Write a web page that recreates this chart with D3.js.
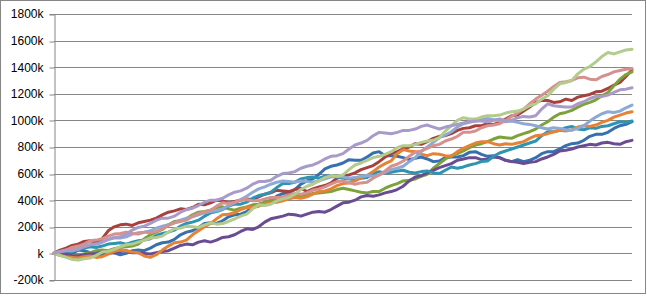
<!DOCTYPE html>
<html>
<head>
<meta charset="utf-8">
<script src="https://cdn.jsdelivr.net/npm/d3@7"></script>
<style>
  body { margin: 0; background: #fff; }
  svg { display: block; }
  .tick text { font-family: "Liberation Sans", Arial, sans-serif; font-size: 12px; fill: #000; }
</style>
</head>
<body>
<div id="chart"></div>
<script>
// chart values in thousands, one point every ~6px across the plot
const yTicks = [-200, 0, 200, 400, 600, 800, 1000, 1200, 1400, 1600, 1800];

const blue = [0, 15, 10, -5, 25, 20, 5, -5, -10, 10, 5, -10, 0, 20, 25, 20, 40, 65, 80, 85, 105, 140, 160, 170, 195, 225, 230, 225, 245, 275, 290, 295, 315, 345, 365, 365, 390, 430, 450, 455, 480, 520, 545, 560, 595, 635, 655, 665, 680, 705, 700, 700, 725, 755, 765, 735, 735, 730, 720, 705, 715, 725, 710, 690, 695, 720, 725, 725, 735, 760, 765, 745, 730, 735, 720, 700, 690, 705, 690, 700, 720, 750, 765, 765, 785, 810, 825, 830, 850, 880, 895, 895, 910, 940, 960, 970, 990];
const red = [0, 25, 40, 60, 70, 90, 95, 85, 110, 170, 200, 215, 220, 210, 230, 240, 250, 265, 290, 310, 320, 335, 330, 345, 370, 365, 380, 400, 395, 380, 390, 400, 410, 405, 425, 445, 455, 475, 470, 465, 480, 490, 465, 485, 500, 510, 530, 565, 585, 590, 605, 630, 645, 660, 690, 725, 750, 765, 785, 800, 825, 820, 840, 865, 880, 885, 900, 925, 940, 945, 960, 960, 975, 970, 985, 1010, 1035, 1040, 1070, 1100, 1135, 1150, 1150, 1135, 1140, 1160, 1150, 1175, 1185, 1195, 1215, 1220, 1240, 1265, 1285, 1330, 1380];
const green = [0, -15, -25, -20, -10, -5, 5, 20, 25, 20, 35, 45, 50, 55, 70, 110, 140, 160, 180, 215, 240, 245, 260, 290, 310, 315, 325, 345, 350, 335, 325, 340, 350, 365, 370, 385, 400, 400, 410, 425, 435, 430, 440, 450, 455, 460, 465, 480, 490, 480, 470, 460, 455, 465, 465, 490, 510, 525, 545, 550, 560, 580, 595, 640, 675, 710, 735, 750, 770, 795, 815, 825, 840, 860, 875, 870, 865, 885, 900, 915, 935, 965, 990, 1025, 1050, 1060, 1075, 1100, 1120, 1135, 1155, 1185, 1210, 1260, 1310, 1345, 1365];
const purple = [0, -5, -10, -20, -20, -10, -5, 0, 10, 0, 5, 15, 20, 5, 5, 0, -5, 5, 15, 20, 40, 60, 70, 65, 85, 95, 85, 100, 120, 125, 140, 165, 185, 180, 200, 235, 260, 270, 280, 295, 290, 280, 295, 310, 315, 310, 330, 355, 380, 385, 400, 425, 435, 430, 440, 455, 465, 480, 505, 545, 575, 585, 605, 625, 645, 660, 675, 700, 710, 720, 720, 705, 710, 725, 720, 700, 690, 685, 675, 685, 690, 710, 725, 745, 770, 775, 785, 800, 810, 820, 815, 830, 835, 825, 820, 840, 850];
const teal = [0, 15, 20, 15, 25, 40, 50, 45, 55, 70, 75, 80, 70, 85, 95, 100, 110, 135, 150, 160, 175, 205, 225, 235, 250, 280, 305, 315, 330, 355, 370, 370, 385, 415, 435, 445, 460, 495, 525, 525, 535, 560, 570, 575, 565, 580, 585, 575, 565, 560, 555, 565, 570, 600, 615, 605, 610, 620, 625, 610, 605, 615, 620, 605, 600, 625, 650, 640, 650, 665, 675, 690, 695, 730, 755, 770, 785, 800, 815, 830, 845, 885, 915, 915, 925, 945, 955, 935, 930, 945, 940, 955, 960, 975, 990, 985, 995];
const orange = [0, -15, -25, -30, -35, -25, -20, -30, -25, -5, 15, 25, 20, 10, 5, -20, -30, -10, 25, 55, 80, 85, 100, 140, 170, 200, 225, 260, 290, 295, 305, 330, 345, 345, 355, 370, 380, 385, 395, 410, 420, 415, 425, 445, 465, 470, 485, 510, 525, 530, 545, 570, 585, 615, 650, 675, 695, 750, 780, 770, 765, 745, 735, 750, 745, 735, 730, 765, 790, 810, 830, 840, 840, 825, 815, 825, 820, 830, 840, 865, 885, 890, 900, 915, 925, 920, 930, 950, 960, 955, 965, 985, 1000, 1025, 1040, 1055, 1065];
const lightBlue = [0, 15, 25, 30, 40, 55, 65, 70, 85, 105, 115, 115, 125, 145, 155, 160, 170, 190, 205, 215, 230, 250, 265, 275, 290, 305, 315, 320, 335, 360, 380, 405, 430, 460, 485, 500, 520, 535, 545, 540, 535, 545, 540, 535, 545, 560, 575, 580, 575, 565, 570, 580, 585, 580, 590, 610, 630, 640, 655, 690, 720, 765, 800, 835, 870, 890, 915, 950, 975, 985, 995, 1010, 1015, 1005, 1000, 990, 995, 985, 975, 970, 960, 945, 935, 945, 940, 930, 925, 940, 960, 995, 1025, 1050, 1065, 1060, 1070, 1095, 1115];
const pink = [0, 10, 25, 45, 55, 70, 95, 100, 110, 130, 145, 150, 160, 150, 145, 160, 155, 165, 185, 210, 230, 240, 250, 280, 300, 310, 325, 355, 380, 375, 385, 400, 405, 395, 395, 410, 420, 420, 425, 440, 450, 445, 455, 475, 485, 500, 520, 540, 545, 530, 520, 530, 535, 565, 590, 620, 655, 670, 695, 730, 760, 770, 790, 810, 820, 845, 860, 880, 910, 910, 920, 945, 960, 965, 975, 1000, 1030, 1055, 1085, 1125, 1160, 1190, 1220, 1255, 1285, 1290, 1300, 1320, 1325, 1310, 1305, 1330, 1345, 1365, 1375, 1385, 1390];
const lightGreen = [0, -15, -30, -45, -50, -40, -35, -15, 10, 15, 30, 50, 65, 70, 85, 100, 115, 120, 130, 160, 185, 190, 205, 200, 195, 215, 230, 220, 225, 240, 260, 280, 295, 335, 365, 360, 370, 395, 410, 420, 445, 480, 505, 520, 545, 570, 585, 580, 590, 630, 665, 680, 700, 720, 730, 745, 765, 795, 810, 810, 820, 835, 845, 850, 870, 920, 960, 1000, 1020, 1010, 1010, 1025, 1035, 1035, 1040, 1055, 1065, 1070, 1085, 1110, 1125, 1160, 1185, 1235, 1275, 1285, 1300, 1350, 1385, 1405, 1440, 1480, 1510, 1500, 1515, 1530, 1535];
const lavender = [0, 15, 20, 20, 30, 50, 65, 70, 85, 105, 120, 125, 145, 175, 195, 205, 225, 250, 265, 265, 280, 310, 330, 340, 360, 385, 400, 400, 415, 440, 460, 470, 490, 520, 540, 540, 550, 580, 600, 605, 615, 640, 655, 665, 685, 710, 730, 735, 750, 785, 815, 830, 850, 885, 910, 905, 900, 910, 925, 925, 935, 955, 965, 950, 935, 950, 960, 970, 980, 990, 995, 995, 990, 1000, 1010, 1000, 1000, 1020, 1030, 1025, 1035, 1085, 1125, 1110, 1105, 1100, 1100, 1125, 1140, 1165, 1180, 1180, 1190, 1210, 1230, 1235, 1245];

const series = [blue, red, green, purple, teal, orange, lightBlue, pink, lightGreen, lavender];
const colors = ["#3670ae", "#a8403d", "#7da23c", "#6a4c93", "#2f94b3", "#e48336",
                "#8da9d6", "#d4918e", "#b3cb8c", "#a99bc9"];

const width = 647, height = 296;
const margin = {top: 14, right: 15, bottom: 16, left: 54};

const svg = d3.select("#chart")
  .append("svg")
  .attr("width", width)
  .attr("height", height);

// outer chart border
svg.append("rect")
  .attr("x", 0.5).attr("y", 0.5)
  .attr("width", width - 2).attr("height", height - 3)
  .attr("fill", "#fff")
  .attr("stroke", "#868686");

// x runs over the share of the period elapsed
const xScale = d3.scaleLinear()
  .domain([0, 1])
  .range([margin.left, width - margin.right]);

const yScale = d3.scaleLinear()
  .domain([-200, 1800])
  .range([height - margin.bottom, margin.top]);

// horizontal gridlines
svg.append("g")
  .selectAll("line")
  .data(yTicks)
  .join("line")
    .attr("x1", margin.left)
    .attr("x2", width - margin.right)
    .attr("y1", d => Math.round(yScale(d)) + 0.5)
    .attr("y2", d => Math.round(yScale(d)) + 0.5)
    .attr("stroke", "#868686");

// y axis with k labels
const yAxis = svg.append("g")
  .attr("transform", `translate(${margin.left + 0.5},0)`)
  .call(d3.axisLeft(yScale)
    .tickValues(yTicks)
    .tickSize(5)
    .tickPadding(6)
    .tickFormat(d => d === 0 ? "k" : d + "k"));
yAxis.select(".domain").attr("stroke", "#868686");
yAxis.selectAll(".tick line")
  .attr("stroke", "#868686")
  .attr("transform", d => `translate(0,${Math.round(yScale(d)) + 0.5 - yScale(d)})`);

svg.append("g")
  .selectAll("path")
  .data(series)
  .join("path")
    .attr("d", s => d3.line()
      .x((d, i) => xScale(i / (s.length - 1)))
      .y(d => yScale(d))(s))
    .attr("fill", "none")
    .attr("stroke", (d, i) => colors[i])
    .attr("stroke-width", 3)
    .attr("stroke-linejoin", "round")
    .attr("stroke-linecap", "round");
</script>
</body>
</html>
